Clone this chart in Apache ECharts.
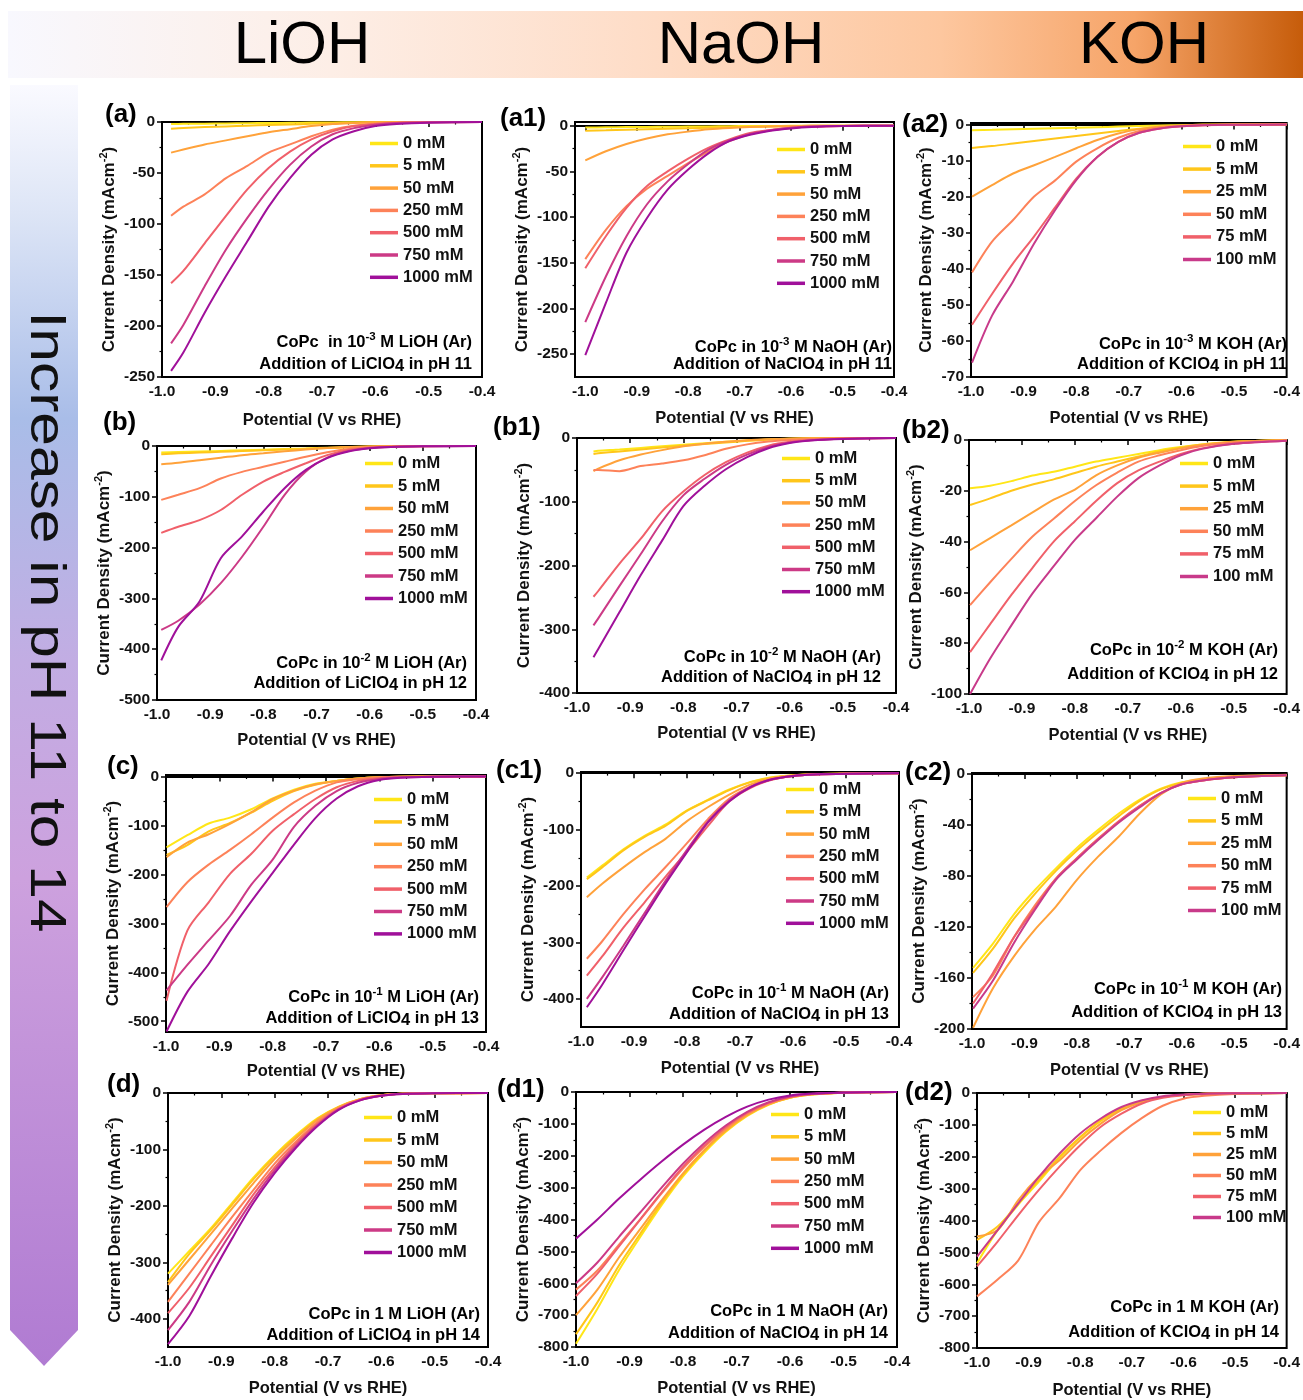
<!DOCTYPE html>
<html>
<head>
<meta charset="utf-8">
<title>CoPc LSV - alkali perchlorate addition</title>
<script src="https://cdn.jsdelivr.net/npm/echarts@6/dist/echarts.min.js"></script>
<style>
  html, body { margin: 0; padding: 0; background: #fff; }
  #chart { width: 1303px; height: 1400px; }
</style>
</head>
<body>
<div id="chart"></div>
<script>
// potential grid the curves were read on (V vs RHE); first point is replaced per panel by where the scan starts
const potentials = [-1.0, -0.96, -0.92, -0.88, -0.84, -0.80, -0.76, -0.72, -0.68, -0.64, -0.60, -0.56, -0.50, -0.40]
const xTicks = [-1.0, -0.9, -0.8, -0.7, -0.6, -0.5, -0.4]

const namesLiNa = ['0 mM', '5 mM', '50 mM', '250 mM', '500 mM', '750 mM', '1000 mM']
const namesK = ['0 mM', '5 mM', '25 mM', '50 mM', '75 mM', '100 mM']
const colorsLiNa = ['#FFE617', '#FFC61A', '#FFA23A', '#FD8259', '#F0606A', '#CC3A86', '#A0109A']
const colorsK = ['#FFE617', '#FFC61A', '#FFA23A', '#FD8259', '#F0606A', '#C83A8A']

// y tick labels
const ticks250 = [0, -50, -100, -150, -200, -250]
const ticks70 = [0, -10, -20, -30, -40, -50, -60, -70]
const ticks500 = [0, -100, -200, -300, -400, -500]
const ticks400 = [0, -100, -200, -300, -400]
const ticks100 = [0, -20, -40, -60, -80, -100]
const ticks200 = [0, -40, -80, -120, -160, -200]
const ticks800 = [0, -100, -200, -300, -400, -500, -600, -700, -800]

// current density (mA cm-2), one row per concentration
const curvesA = [
  [-2, -1.8, -1.6, -1.4, -1.2, -1.0, -0.8, -0.6, -0.4, -0.3, -0.2, -0.1, 0, 0],
  [-6.5, -5.8, -5.0, -4.3, -3.6, -3.0, -2.4, -1.8, -1.2, -0.7, -0.3, -0.1, 0, 0],
  [-30, -27, -22, -18, -14, -10, -7, -4, -2, -1, -0.3, -0.1, 0, 0],
  [-92, -83, -71, -55, -43, -30, -22, -14, -7.5, -3.6, -1.6, -0.7, -0.2, 0],
  [-158, -146, -119, -92, -66, -45, -29, -17, -9, -4, -2, -1, -0.3, 0],
  [-217, -199, -161, -125, -94, -66, -42, -24, -12, -6, -2.6, -1, -0.3, 0],
  [-244, -226, -187, -151, -117, -83, -55, -32, -17, -9, -4, -2, -0.7, 0]
]
const curvesA1 = [
  [-2, -1.8, -1.6, -1.4, -1.2, -1.0, -0.8, -0.6, -0.4, -0.3, -0.2, -0.1, 0, 0],
  [-5.5, -5.0, -4.4, -3.8, -3.3, -2.8, -2.3, -1.8, -1.3, -0.9, -0.5, -0.2, 0, 0],
  [-38, -28, -20, -14, -9.5, -6.5, -4, -2.5, -1.5, -0.8, -0.4, -0.2, 0, 0],
  [-146, -114, -88, -69, -55, -41, -28, -17, -9.5, -5, -2.5, -1, -0.3, 0],
  [-156, -121, -90, -66, -50, -36, -24, -15, -8, -4.7, -2.2, -1, -0.3, 0],
  [-215, -165, -121, -86, -61, -42, -26, -16, -9, -5, -2.4, -1, -0.3, 0],
  [-251, -194, -139, -101, -70, -48, -30, -17, -10, -5.5, -3, -1.5, -0.5, 0]
]
const curvesA2 = [
  [-1.6, -1.5, -1.35, -1.2, -1.05, -0.9, -0.75, -0.6, -0.45, -0.3, -0.2, -0.1, 0, 0],
  [-6.5, -6, -5.3, -4.6, -3.9, -3.2, -2.5, -1.8, -1.2, -0.7, -0.3, -0.1, 0, 0],
  [-20, -16.8, -13.6, -11.3, -9, -6.6, -4.3, -2.5, -1.3, -0.6, -0.3, -0.1, 0, 0],
  [-41, -32.5, -26.5, -20, -15.5, -10.3, -6.6, -3.7, -1.8, -0.9, -0.4, -0.2, -0.1, 0],
  [-55.5, -47, -38.5, -31, -23, -15, -9, -4.8, -2.3, -1.1, -0.5, -0.2, -0.1, 0],
  [-66, -53, -43.5, -33, -23.7, -15.4, -9, -4.8, -2.3, -1.1, -0.5, -0.2, -0.1, 0]
]
const curvesB = [
  [-13, -12, -10.8, -9.6, -8.4, -7.2, -6, -4.8, -3.5, -2.2, -1.1, -0.4, -0.1, 0],
  [-16, -14.5, -13, -11.5, -10, -8.5, -7, -5.5, -4, -2.5, -1.3, -0.5, -0.1, 0],
  [-36, -33, -28, -23, -18, -14.4, -10.5, -7, -4, -2, -1, -0.4, -0.1, 0],
  [-106, -96, -83, -64, -51, -41, -31, -21, -12.5, -6, -2.6, -1, -0.4, 0],
  [-171, -159, -146, -126, -96, -70, -51, -34, -18, -8, -3.3, -1.5, -0.5, 0],
  [-362, -344, -312, -270, -218, -159, -96, -50, -23, -10, -4, -1.8, -0.6, 0],
  [-422, -356, -306, -221, -178, -129, -83, -47, -24, -11, -4.6, -2, -0.7, 0]
]
const curvesB1 = [
  [-21, -20, -18, -15.5, -13, -10.5, -8.2, -6, -4, -2.2, -1, -0.4, -0.1, 0],
  [-25, -24, -21, -18, -15, -12, -9.5, -7, -4.5, -2.5, -1.2, -0.5, -0.1, 0],
  [-52, -48, -35, -26, -19, -13, -9, -6, -3.5, -2, -1, -0.4, -0.1, 0],
  [-50, -50, -52, -44, -40, -35, -27, -17, -10, -5.5, -3, -1.5, -0.6, 0],
  [-249, -240, -197, -158, -115, -84, -58, -38, -23, -12, -6, -3, -1, 0],
  [-294, -283, -232, -182, -131, -90, -64, -42, -26, -14, -7, -3.5, -1.3, 0],
  [-344, -331, -273, -215, -161, -107, -75, -49, -30, -16, -8, -4, -1.5, 0]
]
const curvesB2 = [
  [-19, -18, -16.2, -14, -12.5, -10.5, -8.5, -7, -5.5, -4, -2.8, -1.8, -0.7, 0],
  [-25.6, -23, -20, -17.5, -15.5, -13, -10.5, -8.5, -6.5, -4.5, -3, -1.8, -0.7, 0],
  [-43.4, -38.6, -33.6, -28.5, -23.5, -19.5, -13.9, -10, -7, -5, -3.3, -2, -0.8, 0],
  [-65, -56, -46.8, -38, -31, -24, -17.8, -12.8, -8.5, -6, -4, -2.4, -1, -0.2],
  [-83.5, -72.5, -61, -50.3, -40, -32, -24, -17, -12, -8.5, -5.5, -3.3, -1.5, -0.3],
  [-100, -86, -73, -60.4, -49.7, -39.3, -30.8, -22.3, -15, -10, -6, -3.5, -1.5, -0.3]
]
const curvesC = [
  [-145, -120, -96, -84, -67, -45, -27, -15, -9, -4, -1.5, -0.5, -0.2, 0],
  [-160, -140, -112, -95, -74, -50, -30, -17, -9, -4, -1.5, -0.5, -0.2, 0],
  [-165, -135, -118, -97, -73, -46, -29, -16, -9, -4, -1.5, -0.5, -0.2, 0],
  [-267, -216, -180, -150, -118, -84, -53, -29, -12, -5.4, -2, -0.8, -0.3, 0],
  [-458, -315, -257, -199, -158, -111, -77, -46, -22, -9, -3.4, -1.2, -0.4, 0],
  [-437, -385, -335, -285, -221, -170, -103, -60, -30, -13, -5, -2, -0.6, 0],
  [-521, -440, -383, -316, -255, -197, -139, -85, -45, -20, -7, -2.5, -0.7, 0]
]
const curvesC1 = [
  [-185, -164, -135, -111, -91, -66, -47, -29, -15.5, -7.5, -3.8, -2, -0.8, 0],
  [-188, -167, -137, -113, -93, -67, -48, -30, -16, -8, -4, -2, -0.8, 0],
  [-220, -196, -167, -140, -116, -85, -60, -38, -20, -9, -4, -2, -0.8, 0],
  [-329, -298, -250, -206, -166, -124, -81, -45, -24, -11, -5, -2.5, -1, 0],
  [-359, -325, -274, -229, -183, -139, -93, -50, -26, -12, -5, -2.5, -1, 0],
  [-400, -362, -306, -248, -190, -136, -85, -48, -24, -11, -5, -2.5, -1, 0],
  [-415, -375, -314, -254, -195, -140, -87, -50, -25, -11, -5, -2.5, -1, 0]
]
const curvesC2 = [
  [-152, -133, -110, -91, -74, -58, -44, -31, -20, -11.5, -6.5, -4.2, -2.2, -1],
  [-156, -137, -113.5, -94, -76, -60, -46, -33, -21, -12, -7, -4.4, -2.3, -1],
  [-199, -168, -143, -122, -104, -83, -65, -49, -31, -16, -7, -3.5, -1.5, -0.5],
  [-175, -158, -128, -103, -82, -66, -51, -37, -25, -15, -8, -5, -2.5, -1],
  [-180, -156, -128, -105, -82, -66, -51, -37, -25, -15, -8, -5, -2.5, -1],
  [-184, -162, -132.5, -106.5, -83, -67, -52, -38, -26, -15, -8, -5, -2.5, -1]
]
const curvesD = [
  [-320, -280, -240, -195, -150, -110, -75, -45, -24, -11, -4, -1.5, -0.5, 0],
  [-335, -285, -243, -198, -153, -112, -77, -46, -25, -11, -4, -1.5, -0.5, 0],
  [-340, -295, -250, -205, -160, -117, -80, -48, -25, -11, -4, -1.5, -0.5, 0],
  [-370, -320, -270, -220, -172, -125, -86, -52, -27, -12, -4.5, -1.5, -0.5, 0],
  [-390, -345, -290, -235, -180, -132, -90, -55, -28, -12, -4.5, -1.5, -0.5, 0],
  [-420, -370, -305, -245, -188, -137, -94, -57, -29, -13, -5, -1.8, -0.5, 0],
  [-445, -395, -325, -258, -195, -142, -97, -59, -30, -13, -5, -1.8, -0.5, 0]
]
const curvesD1 = [
  [-790, -680, -560, -455, -355, -265, -190, -125, -75, -40, -18, -8, -2, 0],
  [-760, -660, -545, -445, -348, -260, -185, -122, -73, -39, -18, -8, -2, 0],
  [-700, -620, -520, -430, -340, -255, -182, -120, -72, -38, -17, -7, -2, 0],
  [-620, -560, -480, -400, -318, -240, -172, -114, -68, -36, -16, -7, -2, 0],
  [-640, -570, -485, -400, -315, -235, -168, -110, -65, -34, -15, -6, -2, 0],
  [-600, -535, -455, -378, -300, -225, -160, -105, -62, -32, -14, -6, -2, 0],
  [-460, -400, -335, -275, -218, -165, -118, -78, -46, -24, -11, -5, -1.5, 0]
]
const curvesD2 = [
  [-534, -430, -350, -278, -203, -140, -88, -50, -26, -12, -6, -2.5, -1, 0],
  [-461, -419, -346, -273, -200, -138, -86, -49, -25, -12.5, -6, -2.5, -1, 0],
  [-450, -430, -336, -263, -211, -148, -96, -54, -28, -12.5, -6, -2.5, -1, 0],
  [-638, -585, -525, -405, -330, -242, -180, -125, -78, -40, -18, -9, -3, 0],
  [-544, -466, -383, -304, -231, -164, -106, -65, -33, -15, -7, -3, -1, 0],
  [-513, -430, -346, -263, -190, -127, -80, -44, -23, -10, -5, -2, -1, 0]
]

const FONT = '"Liberation Sans", Arial, Helvetica, sans-serif'

// 注释第一行：10 的上标
function noteLine1 (pre, exp, post) {
  return exp ? `{n|${pre}}{sup|${exp}}{n|${post}}` : `{n|${pre}${post}}`
}
// 第二行：ClO4 的下标
function noteLine2 (ion, ph) {
  return `{n|Addition of ${ion}ClO}{sub|4}{n| in pH ${ph}}`
}
// 次刻度放在相邻主刻度中间
function midpoints (arr) {
  return arr.slice(1).map((v, k) => (v + arr[k]) / 2)
}

const panels = [
  { label: '(a)', curves: curvesA, li: true, start: -0.983, xMin: -1.0, yMin: -250, yMax: 0, ticks: ticks250,
    grid: [162, 122, 320, 255], xGap: 35, yGap: 39, legend: [370, 135, 5.3], lab: [105, 115],
    note: [472, 342, 364, noteLine1('CoPc  in 10', '-3', ' M LiOH (Ar)'), noteLine2('Li', 11)] },
  { label: '(a1)', curves: curvesA1, li: true, start: -1.0, xMin: -1.02, yMin: -275, yMax: 4, ticks: ticks250,
    grid: [575, 122, 319, 255], xGap: 33, yGap: 36, legend: [777, 141, 5.3], lab: [500, 119],
    note: [892, 347, 364, noteLine1('CoPc in 10', '-3', ' M NaOH (Ar)'), noteLine2('Na', 11)] },
  { label: '(a2)', curves: curvesA2, li: false, start: -0.998, xMin: -1.0, yMin: -70, yMax: 0.4, ticks: ticks70,
    grid: [971, 123, 319, 254], xGap: 33, yGap: 30, legend: [1183, 138, 5.6], lab: [902, 125],
    note: [1287, 344, 364, noteLine1('CoPc in 10', '-3', ' M KOH (Ar)'), noteLine2('K', 11)] },
  { label: '(b)', curves: curvesB, li: true, start: -0.992, xMin: -1.0, yMin: -500, yMax: 0, ticks: ticks500,
    grid: [157, 446, 319, 254], xGap: 32, yGap: 39, legend: [365, 455, 5.5], lab: [103, 423],
    note: [467, 663, 683, noteLine1('CoPc in 10', '-2', ' M LiOH (Ar)'), noteLine2('Li', 12)] },
  { label: '(b1)', curves: curvesB1, li: true, start: -0.969, xMin: -1.0, yMin: -400, yMax: 0, ticks: ticks400,
    grid: [577, 438, 319, 255], xGap: 32, yGap: 33, legend: [782, 450, 5.2], lab: [493, 428],
    note: [881, 657, 677, noteLine1('CoPc in 10', '-2', ' M NaOH (Ar)'), noteLine2('Na', 12)] },
  { label: '(b2)', curves: curvesB2, li: false, start: -0.998, xMin: -1.0, yMin: -100, yMax: 0, ticks: ticks100,
    grid: [969, 440, 318, 254], xGap: 33, yGap: 41, legend: [1180, 455, 5.6], lab: [902, 431],
    note: [1278, 650, 674, noteLine1('CoPc in 10', '-2', ' M KOH (Ar)'), noteLine2('K', 12)] },
  { label: '(c)', curves: curvesC, li: true, start: -0.999, xMin: -1.0, yMin: -522, yMax: 3, ticks: ticks500,
    grid: [166, 775, 320, 257], xGap: 31, yGap: 37, legend: [374, 791, 5.4], lab: [107, 767],
    note: [479, 997, 1018, noteLine1('CoPc in 10', '-1', ' M LiOH (Ar)'), noteLine2('Li', 13)] },
  { label: '(c1)', curves: curvesC1, li: true, start: -0.989, xMin: -1.0, yMin: -450, yMax: 2, ticks: ticks400,
    grid: [581, 772, 318, 255], xGap: 33, yGap: 40, legend: [786, 781, 5.3], lab: [496, 771],
    note: [889, 993, 1014, noteLine1('CoPc in 10', '-1', ' M NaOH (Ar)'), noteLine2('Na', 13)] },
  { label: '(c2)', curves: curvesC2, li: false, start: -0.998, xMin: -1.0, yMin: -200, yMax: 0.8, ticks: ticks200,
    grid: [972, 773, 319, 256], xGap: 33, yGap: 39, legend: [1188, 790, 5.4], lab: [905, 773],
    note: [1282, 989, 1012, noteLine1('CoPc in 10', '-1', ' M KOH (Ar)'), noteLine2('K', 13)] },
  { label: '(d)', curves: curvesD, li: true, start: -1.0, xMin: -1.0, yMin: -450, yMax: 0, ticks: ticks400,
    grid: [168, 1093, 320, 254], xGap: 33, yGap: 39, legend: [364, 1109, 5.5], lab: [107, 1085],
    note: [480, 1314, 1335, noteLine1('CoPc in 1', '', ' M LiOH (Ar)'), noteLine2('Li', 14)] },
  { label: '(d1)', curves: curvesD1, li: true, start: -1.0, xMin: -1.0, yMin: -800, yMax: 0, ticks: ticks800,
    grid: [576, 1092, 321, 255], xGap: 33, yGap: 39, legend: [771, 1106, 5.3], lab: [497, 1090],
    note: [888, 1311, 1333, noteLine1('CoPc in 1', '', ' M NaOH (Ar)'), noteLine2('Na', 14)] },
  { label: '(d2)', curves: curvesD2, li: false, start: -1.0, xMin: -1.0, yMin: -800, yMax: 0, ticks: ticks800,
    grid: [977, 1093, 319, 255], xGap: 34, yGap: 41, legend: [1193, 1104, 4], lab: [905, 1093],
    note: [1279, 1307, 1332, noteLine1('CoPc in 1', '', ' M KOH (Ar)'), noteLine2('K', 14)] }
]

const noteRich = {
  n: { fontFamily: FONT, fontSize: 16.5, fontWeight: 'bold', color: '#111', lineHeight: 22 },
  sup: { fontFamily: FONT, fontSize: 11.5, fontWeight: 'bold', color: '#111', lineHeight: 10, verticalAlign: 'top' },
  sub: { fontFamily: FONT, fontSize: 16.5, fontWeight: 'bold', color: '#111', lineHeight: 8, verticalAlign: 'bottom' }
}
const labelFont = { fontFamily: FONT, fontSize: 15.5, fontWeight: 'bold', color: '#111' }

const grid = []
const xAxis = []
const yAxis = []
const series = []
const legend = []
const graphic = []

// 顶部渐变条 + 左侧箭头
graphic.push({
  type: 'rect', shape: { x: 8, y: 11, width: 1295, height: 67 }, z: 0,
  style: {
    fill: new echarts.graphic.LinearGradient(0, 0, 1, 0, [
      { offset: 0, color: '#f8f8fe' }, { offset: 0.25, color: '#fdeee6' },
      { offset: 0.5, color: '#fedcc6' }, { offset: 0.72, color: '#fdc79f' },
      { offset: 0.87, color: '#f6a468' }, { offset: 1, color: '#c65c0a' }
    ])
  }
})
;[['LiOH', 302], ['NaOH', 741], ['KOH', 1144]].forEach(([t, cx]) => {
  graphic.push({ type: 'text', z: 5, style: { text: t, x: cx, y: 46, align: 'center', verticalAlign: 'middle', fontFamily: FONT, fontSize: 60, fill: '#000' } })
})
graphic.push({
  type: 'polygon', z: 0,
  shape: { points: [[10, 85], [78, 85], [78, 1330], [44, 1366], [10, 1330]] },
  style: {
    fill: new echarts.graphic.LinearGradient(0, 0, 0, 1, [
      { offset: 0, color: '#fafaff' }, { offset: 0.1, color: '#dde5f6' },
      { offset: 0.26, color: '#a9bde8' }, { offset: 0.45, color: '#c2ade3' },
      { offset: 0.62, color: '#cda1de' }, { offset: 1, color: '#b07bd2' }
    ])
  }
})
graphic.push({
  type: 'text', x: 45, y: 622, rotation: -Math.PI / 2, scaleX: 1.21, z: 5,
  style: { text: 'Increase in pH 11 to 14', x: 0, y: 0, align: 'center', verticalAlign: 'middle', fontFamily: FONT, fontSize: 50, fill: '#111' }
})

const n = panels.length
const xMinor = midpoints(xTicks)

panels.forEach((p, i) => {
  const names = p.li ? namesLiNa : namesK
  const colors = p.li ? colorsLiNa : colorsK
  const [gl, gt, gw, gh] = p.grid
  grid.push({ left: gl, top: gt, width: gw, height: gh, show: true, borderColor: '#000', borderWidth: 2, backgroundColor: 'transparent' })

  xAxis.push({
    gridIndex: i, type: 'value', position: 'bottom', min: p.xMin, max: -0.4,
    name: 'Potential (V vs RHE)', nameLocation: 'middle', nameGap: p.xGap,
    nameTextStyle: { fontFamily: FONT, fontSize: 16.5, fontWeight: 'bold', color: '#111' },
    axisLine: { show: true, lineStyle: { color: '#000', width: 2 } },
    axisTick: { show: true, length: 5, customValues: xTicks, lineStyle: { color: '#000', width: 1.5 } },
    axisLabel: Object.assign({ customValues: xTicks, margin: 7, formatter: (v) => v.toFixed(1) }, labelFont),
    splitLine: { show: false }
  })
  yAxis.push({
    gridIndex: i, type: 'value', position: 'left', min: p.yMin, max: p.yMax,
    name: 'Current Density (mAcm{sup|-2})', nameLocation: 'middle', nameGap: p.yGap,
    nameTextStyle: {
      fontFamily: FONT, fontSize: 17, fontWeight: 'bold', color: '#111', lineHeight: 22,
      rich: { sup: { fontFamily: FONT, fontSize: 11, fontWeight: 'bold', color: '#111', lineHeight: 10, verticalAlign: 'top' } }
    },
    axisLine: { show: true, lineStyle: { color: '#000', width: 2 } },
    axisTick: { show: true, length: 5, customValues: p.ticks, lineStyle: { color: '#000', width: 1.5 } },
    axisLabel: Object.assign({ customValues: p.ticks, margin: 7 }, labelFont),
    splitLine: { show: false }
  })

  p.curves.forEach((ys, k) => {
    series.push({
      type: 'line', name: names[k], xAxisIndex: i, yAxisIndex: i,
      data: ys.map((y, j) => [j === 0 ? p.start : potentials[j], y]),
      showSymbol: false, smooth: 0.3, silent: true,
      lineStyle: { color: colors[k], width: 2 }, itemStyle: { color: colors[k] }
    })
  })

  legend.push({
    left: p.legend[0], top: p.legend[1], orient: 'vertical', padding: 0,
    icon: 'rect', itemWidth: 28, itemHeight: 3.5, itemGap: p.legend[2], selectedMode: false,
    textStyle: { fontFamily: FONT, fontSize: 16.5, fontWeight: 'bold', color: '#111', lineHeight: 16 },
    data: names.map((nm, k) => ({ name: nm, itemStyle: { color: colors[k] }, lineStyle: { color: colors[k] } }))
  })

  graphic.push({ type: 'text', z: 5, style: { text: p.label, x: p.lab[0], y: p.lab[1], verticalAlign: 'middle', fontFamily: FONT, fontSize: 26, fontWeight: 'bold', fill: '#000' } })
  graphic.push({ type: 'text', z: 5, style: { text: p.note[3], x: p.note[0], y: p.note[1], align: 'right', verticalAlign: 'middle', rich: noteRich } })
  graphic.push({ type: 'text', z: 5, style: { text: p.note[4], x: p.note[0], y: p.note[2], align: 'right', verticalAlign: 'middle', rich: noteRich } })
})

// minor ticks: second set of bare axes on the same grids
panels.forEach((p, i) => {
  xAxis.push({
    gridIndex: i, type: 'value', position: 'bottom', min: p.xMin, max: -0.4,
    axisLine: { show: false }, axisLabel: { show: false }, splitLine: { show: false },
    axisTick: { show: true, length: 2.5, customValues: xMinor, lineStyle: { color: '#000', width: 1.2 } }
  })
  yAxis.push({
    gridIndex: i, type: 'value', position: 'left', min: p.yMin, max: p.yMax,
    axisLine: { show: false }, axisLabel: { show: false }, splitLine: { show: false },
    axisTick: { show: true, length: 2.5, customValues: midpoints(p.ticks), lineStyle: { color: '#000', width: 1.2 } }
  })
})

const myChart = echarts.init(document.getElementById('chart'), null, { renderer: 'canvas' })
myChart.setOption({
  animation: false,
  backgroundColor: '#fff',
  textStyle: { fontFamily: FONT },
  grid, xAxis, yAxis, series, legend, graphic
})
</script>
</body>
</html>
